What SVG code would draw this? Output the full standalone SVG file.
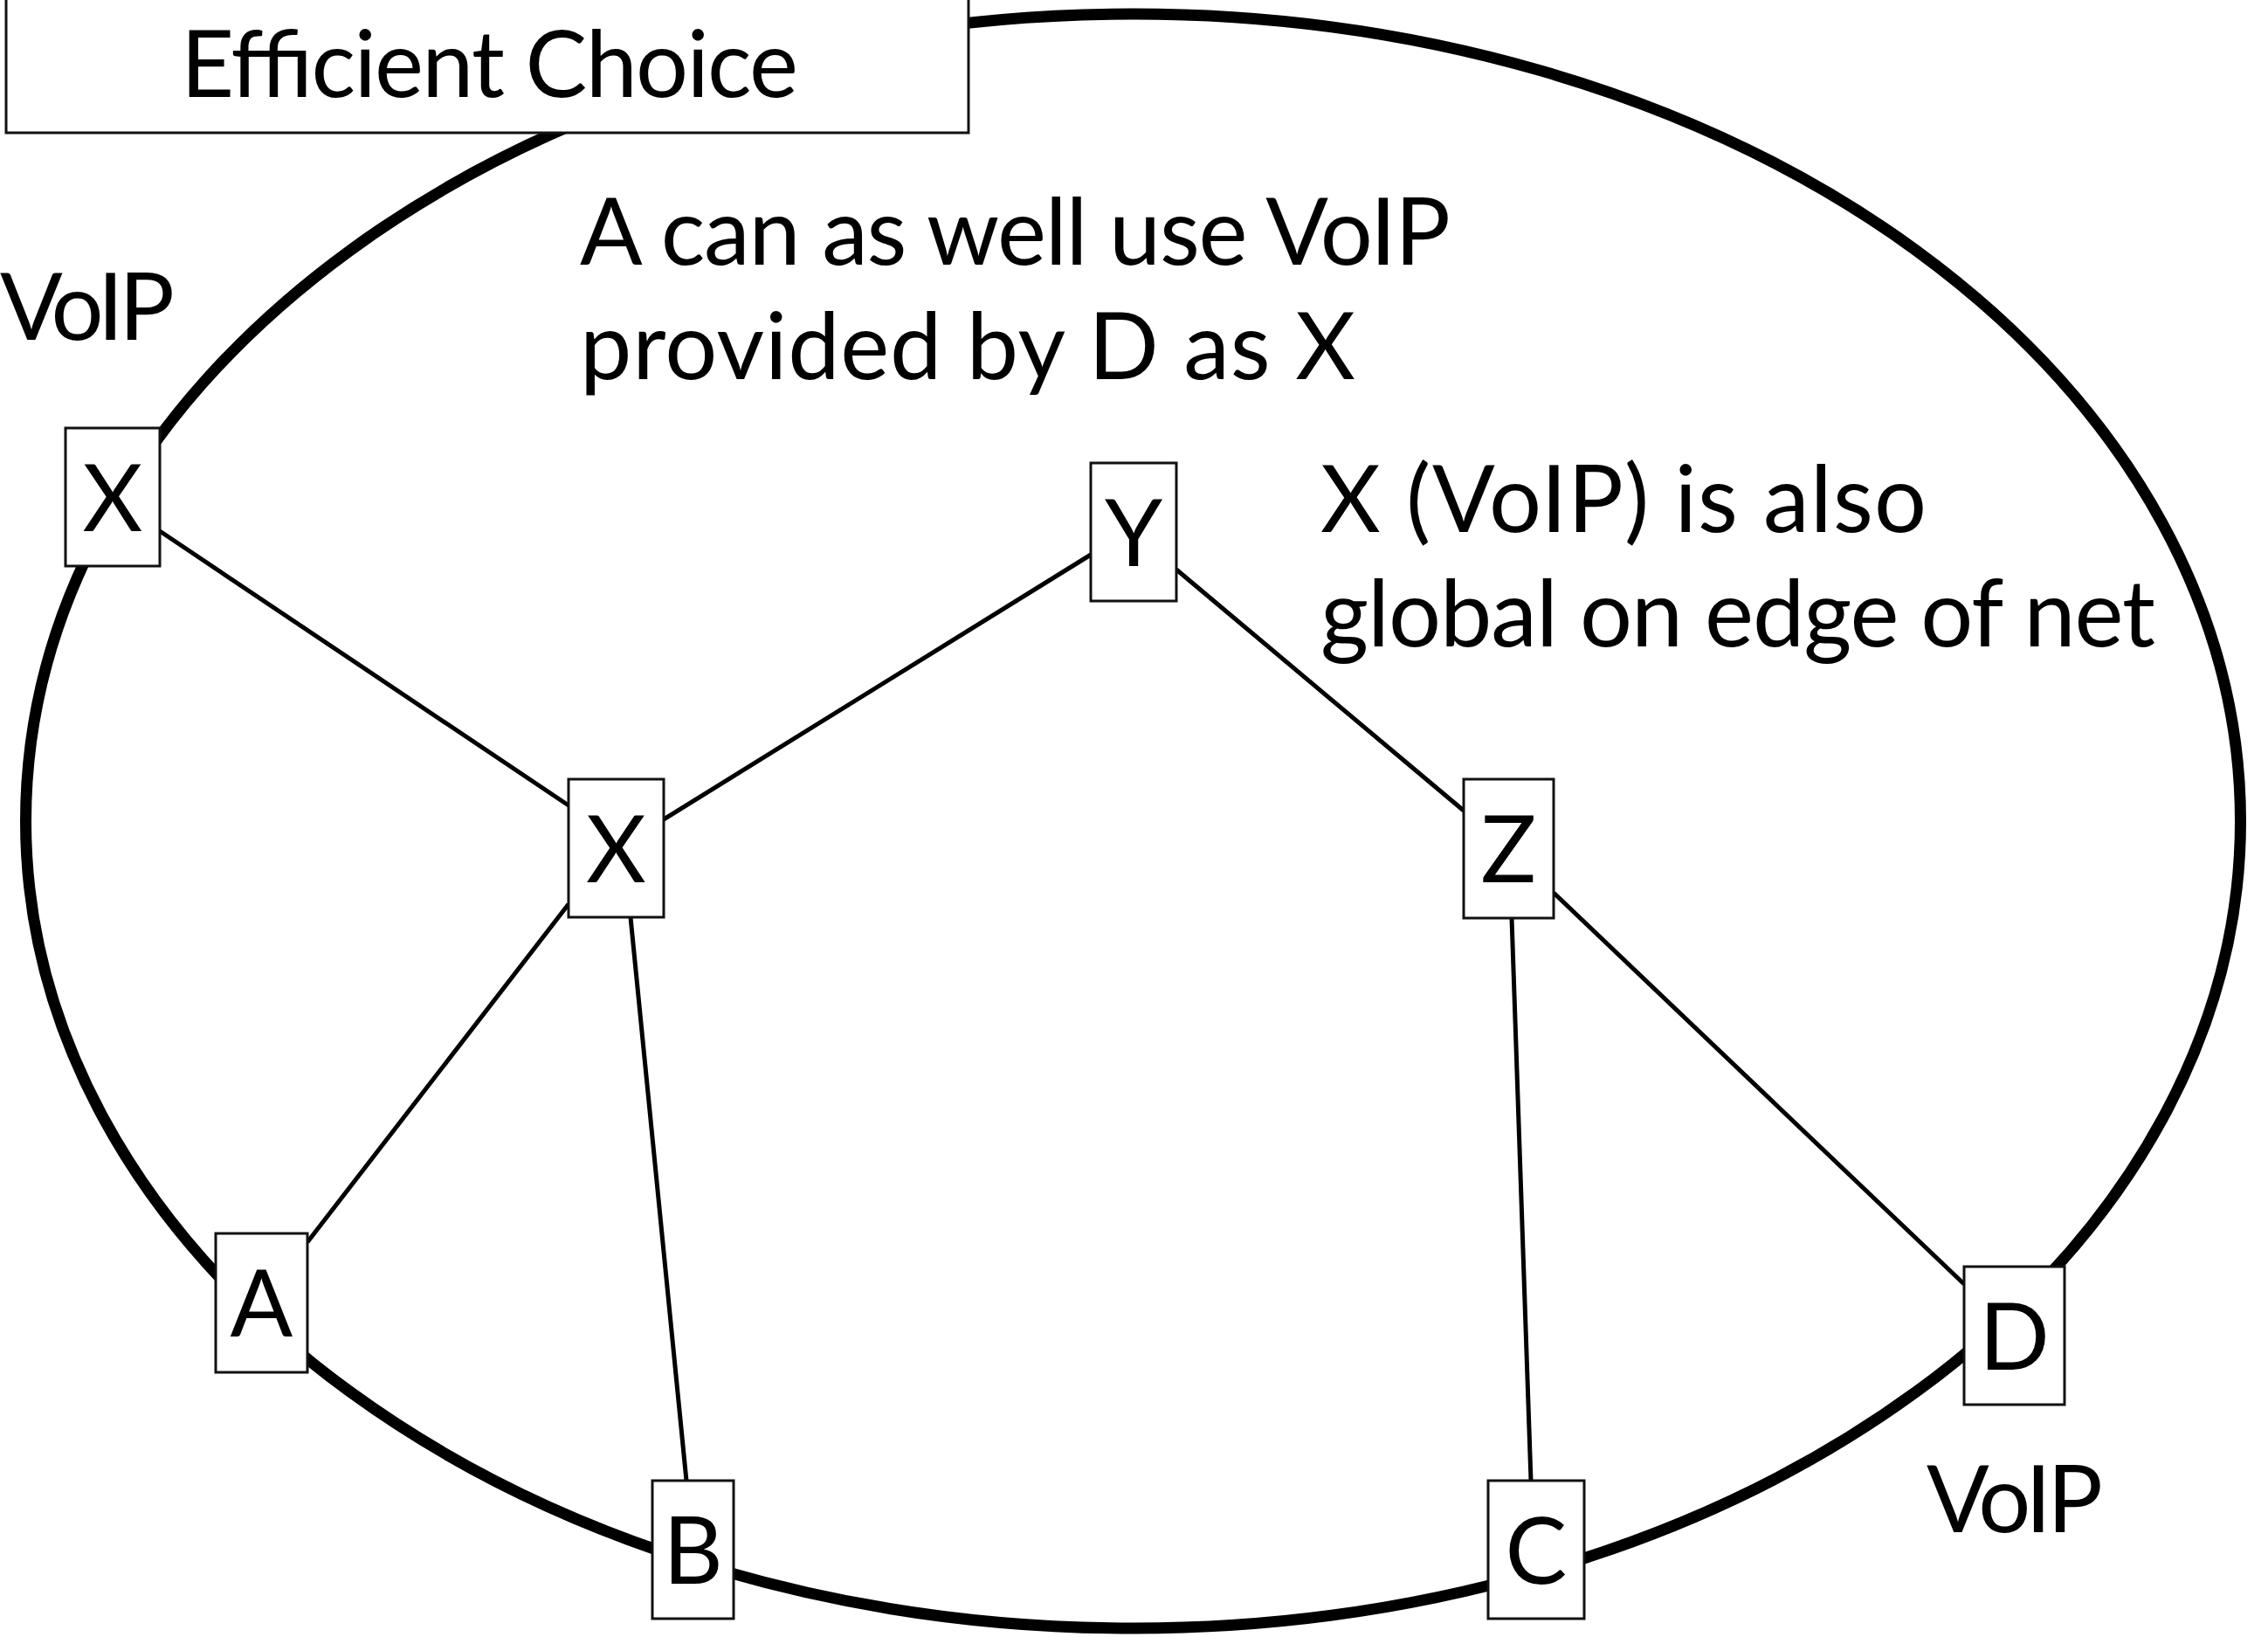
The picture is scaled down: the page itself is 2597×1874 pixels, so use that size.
<svg xmlns="http://www.w3.org/2000/svg" width="2597" height="1874" viewBox="0 0 2597 1874">
<style>
text{font-family:Lato,"Open Sans","Liberation Sans",sans-serif;font-size:106px;fill:#000}
.box{fill:#fff;stroke:#111;stroke-width:3}
.lbl{text-anchor:middle}
.edge{stroke:#000;stroke-width:5;fill:none}
</style>
<rect width="2597" height="1874" fill="#fff"/>
<ellipse id="net" cx="1297.5" cy="940" rx="1268" ry="924" fill="none" stroke="#000" stroke-width="13"/>
<g id="title">
<rect class="box" x="7" y="-10" width="1102" height="162"/>
<text x="207" y="111" textLength="707">Efficient Choice</text>
</g>
<g id="connectors">
<line class="edge" x1="183" y1="608" x2="651" y2="922"/>
<line class="edge" x1="760" y1="938" x2="1249" y2="635"/>
<line class="edge" x1="1347" y1="652" x2="1676" y2="928"/>
<line class="edge" x1="651" y1="1035" x2="352" y2="1422"/>
<line class="edge" x1="722" y1="1050" x2="786" y2="1695"/>
<line class="edge" x1="1731" y1="1051" x2="1753" y2="1695"/>
<line class="edge" x1="1779" y1="1022" x2="2249" y2="1470"/>
</g>
<g id="node-x1"><rect class="box" x="75" y="490" width="108" height="158"/><text class="lbl" x="129" y="608">X</text></g>
<g id="node-y"><rect class="box" x="1249" y="530" width="98" height="158"/><text class="lbl" x="1298" y="648">Y</text></g>
<g id="node-x2"><rect class="box" x="651" y="892" width="109" height="158"/><text class="lbl" x="705.5" y="1010">X</text></g>
<g id="node-z"><rect class="box" x="1676" y="892" width="103" height="159"/><text class="lbl" x="1727.5" y="1010">Z</text></g>
<g id="node-a"><rect class="box" x="247" y="1412" width="105" height="159"/><text class="lbl" x="299.5" y="1530">A</text></g>
<g id="node-b"><rect class="box" x="747" y="1695" width="93" height="158"/><text class="lbl" x="793.5" y="1813">B</text></g>
<g id="node-c"><rect class="box" x="1704" y="1695" width="110" height="158"/><text class="lbl" x="1759" y="1813">C</text></g>
<g id="node-d"><rect class="box" x="2249" y="1450" width="115" height="158"/><text class="lbl" x="2306.5" y="1568">D</text></g>
<g id="notes">
<text x="0" y="389" textLength="200">VoIP</text>
<text x="2206" y="1754" textLength="202">VoIP</text>
<text x="664" y="303" textLength="997">A can as well use VoIP</text>
<text x="664" y="434" textLength="888">provided by D as X</text>
<text x="1512" y="609" textLength="694">X (VoIP) is also</text>
<text x="1512" y="740" textLength="956">global on edge of net</text>
</g>
</svg>
